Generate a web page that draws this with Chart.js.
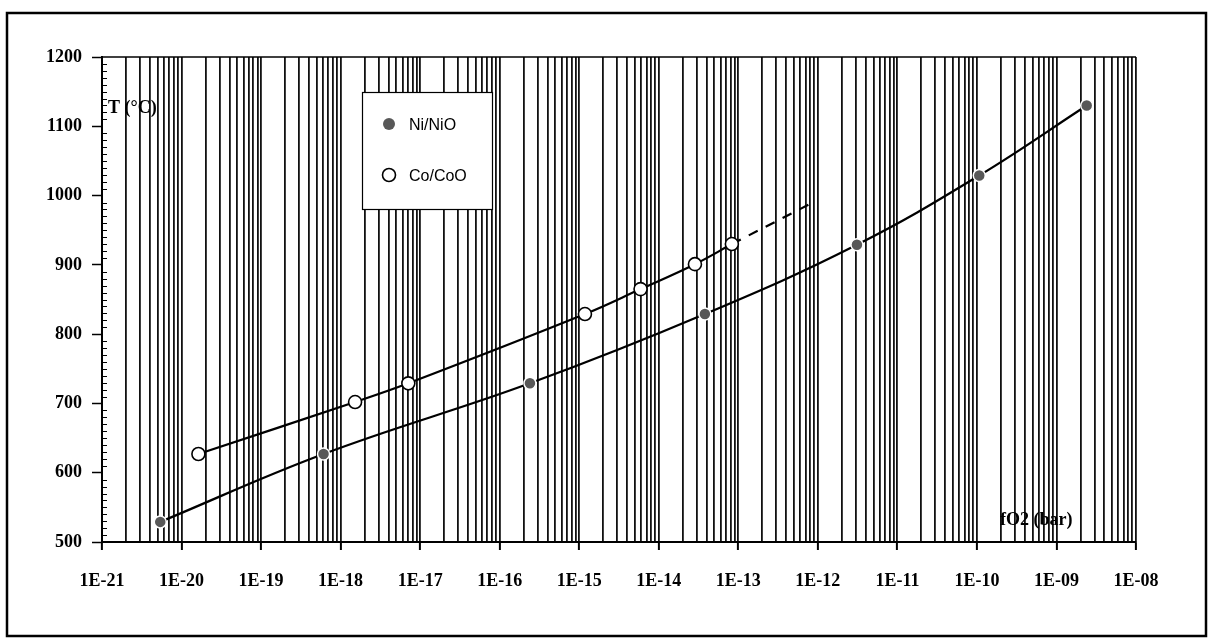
<!DOCTYPE html>
<html>
<head>
<meta charset="utf-8">
<script src="https://cdn.jsdelivr.net/npm/chart.js@4.4.1/dist/chart.umd.min.js"></script>
<style>
    html, body { margin: 0; padding: 0; background: #fff; }
    #wrap { width: 1208px; height: 639px; position: relative; }
</style>
</head>
<body>
<div id="wrap"><canvas id="bufferChart"></canvas></div>
<script>
// Buffer curves
const niFO2 = [5.4e-21, 6.1e-19, 2.4e-16, 3.8e-14, 3.1e-12, 1.07e-10, 2.4e-9];
const niTemp = [529, 627, 729, 829, 929, 1029, 1130];
const coFO2 = [1.63e-20, 1.52e-18, 7.1e-18, 1.18e-15, 5.9e-15, 2.85e-14, 8.3e-14];
const coTemp = [627, 702, 729, 829, 865, 901, 930];
// dashed extrapolation of Co/CoO
const coExtFO2 = [8.3e-14, 8.0e-13];
const coExtTemp = [930, 988];

const decades = [-21, -20, -19, -18, -17, -16, -15, -14, -13, -12, -11, -10, -9, -8];
const xTickLabels = ['1E-21', '1E-20', '1E-19', '1E-18', '1E-17', '1E-16', '1E-15',
    '1E-14', '1E-13', '1E-12', '1E-11', '1E-10', '1E-09', '1E-08'];
const yTicks = [500, 600, 700, 800, 900, 1000, 1100, 1200];
const yTickLabels = ['500', '600', '700', '800', '900', '1000', '1100', '1200'];

const serif = '"Liberation Serif", "Times New Roman", serif';
const sans = '"Liberation Sans", Arial, sans-serif';

function toPoints(xs, ys) {
    return xs.map((x, i) => ({ x: x, y: ys[i] }));
}

function decadeIndex(value) {
    const e = Math.log10(value);
    const r = Math.round(e);
    if (Math.abs(e - r) > 1e-6) return -1;
    return decades.indexOf(r);
}

const niStyle = { radius: 6, fill: '#585858', stroke: '#fff', width: 1.5 };
const coStyle = { radius: 6.5, fill: '#fff', stroke: '#000', width: 1.6 };

const decorPlugin = {
    id: 'decor',
    beforeDraw(chart) {
        const ctx = chart.ctx;
        ctx.save();
        ctx.fillStyle = '#fff';
        ctx.fillRect(0, 0, chart.width, chart.height);
        ctx.restore();
    },
    afterDatasetsDraw(chart) {
        const ctx = chart.ctx;
        const area = chart.chartArea;
        const y = chart.scales.y;
        ctx.save();

        // top edge of plot
        ctx.strokeStyle = '#000';
        ctx.lineWidth = 1.5;
        ctx.beginPath();
        ctx.moveTo(area.left, area.top);
        ctx.lineTo(area.right, area.top);
        ctx.stroke();

        // minor ticks on the T axis
        ctx.lineWidth = 1;
        for (let v = yTicks[0]; v < yTicks[yTicks.length - 1]; v += 10) {
            if (v % 100 === 0) continue;
            const py = Math.round(y.getPixelForValue(v)) + 0.5;
            ctx.beginPath();
            ctx.moveTo(area.left, py);
            ctx.lineTo(area.left + 5, py);
            ctx.stroke();
        }

        // legend box
        ctx.fillStyle = '#fff';
        ctx.fillRect(362, 92, 130, 117);
        ctx.lineWidth = 1.2;
        ctx.strokeRect(362.5, 92.5, 130, 117);

        const items = [
            { label: 'Ni/NiO', style: niStyle, y: 124 },
            { label: 'Co/CoO', style: coStyle, y: 175 }
        ];
        items.forEach(it => {
            ctx.beginPath();
            ctx.arc(389, it.y, it.style.radius, 0, Math.PI * 2);
            ctx.fillStyle = it.style.fill;
            ctx.fill();
            if (it.style.stroke !== '#fff') {
                ctx.lineWidth = it.style.width;
                ctx.strokeStyle = it.style.stroke;
                ctx.stroke();
            }
            ctx.fillStyle = '#000';
            ctx.font = '16px ' + sans;
            ctx.textBaseline = 'middle';
            ctx.textAlign = 'left';
            ctx.fillText(it.label, 409, it.y + 2);
        });

        // axis titles inside the plot
        ctx.font = 'bold 18px ' + serif;
        ctx.fillStyle = '#000';
        ctx.textBaseline = 'middle';
        ctx.fillText('T (°C)', 108, 108);
        ctx.fillText('fO2 (bar)', 1000, 520);

        // outer frame
        ctx.lineWidth = 2.5;
        ctx.strokeStyle = '#000';
        ctx.strokeRect(7, 13, 1199, 623);
        ctx.restore();
    }
};

const config = {
    type: 'line',
    data: {
        datasets: [
            {
                label: 'Ni/NiO',
                data: toPoints(niFO2, niTemp),
                borderColor: '#000',
                borderWidth: 2.2,
                tension: 0.4,
                pointRadius: niStyle.radius,
                pointBackgroundColor: niStyle.fill,
                pointBorderColor: niStyle.stroke,
                pointBorderWidth: niStyle.width
            },
            {
                label: 'Co/CoO',
                data: toPoints(coFO2, coTemp),
                borderColor: '#000',
                borderWidth: 2.2,
                tension: 0.4,
                pointRadius: coStyle.radius,
                pointBackgroundColor: coStyle.fill,
                pointBorderColor: coStyle.stroke,
                pointBorderWidth: coStyle.width
            },
            {
                label: 'Co/CoO extrapolated',
                data: toPoints(coExtFO2, coExtTemp),
                borderColor: '#000',
                borderWidth: 2.2,
                borderDash: [10, 9],
                pointRadius: 0,
                order: 5
            }
        ]
    },
    options: {
        responsive: true,
        maintainAspectRatio: false,
        animation: false,
        devicePixelRatio: 1,
        layout: { padding: { left: 0, top: 57, right: 72, bottom: 0 } },
        plugins: {
            legend: { display: false },
            tooltip: { enabled: false }
        },
        scales: {
            x: {
                type: 'logarithmic',
                min: 1e-21,
                max: 1e-8,
                afterBuildTicks(scale) {
                    const ticks = [];
                    decades.forEach((e, i) => {
                        const last = i === decades.length - 1;
                        for (let k = 1; k <= (last ? 1 : 9); k++) {
                            ticks.push({ value: parseFloat(k + 'e' + e) });
                        }
                    });
                    scale.ticks = ticks;
                },
                afterFit(scale) { scale.height = 97; },
                ticks: {
                    autoSkip: false,
                    maxRotation: 0,
                    minRotation: 0,
                    padding: 21,
                    color: '#000',
                    font: { family: serif, size: 18, weight: 'bold' },
                    callback: function(value) {
                        const i = decadeIndex(value);
                        return i >= 0 ? xTickLabels[i] : '';
                    }
                },
                grid: {
                    drawOnChartArea: true,
                    color: '#111',
                    lineWidth: 1.8,
                    tickLength: 8,
                    tickWidth: 2,
                    tickColor: ctx => (ctx.tick && decadeIndex(ctx.tick.value) >= 0) ? '#000' : 'rgba(0,0,0,0)'
                },
                border: { display: true, color: '#000', width: 2 }
            },
            y: {
                min: 500,
                max: 1200,
                afterBuildTicks(scale) {
                    scale.ticks = yTicks.map(v => ({ value: v }));
                },
                afterFit(scale) { scale.width = 102; },
                ticks: {
                    padding: 10,
                    color: '#000',
                    font: { family: serif, size: 18, weight: 'bold' },
                    callback: function(value) {
                        const i = yTicks.indexOf(value);
                        return i >= 0 ? yTickLabels[i] : '';
                    }
                },
                grid: {
                    drawOnChartArea: false,
                    tickLength: 10,
                    tickWidth: 1.5,
                    tickColor: '#000'
                },
                border: { display: true, color: '#000', width: 2 }
            }
        }
    },
    plugins: [decorPlugin]
};

try {
    new Chart(document.getElementById('bufferChart').getContext('2d'), config);
} catch (error) {
    console.error('Chart initialization failed:', error);
}
</script>
</body>
</html>
